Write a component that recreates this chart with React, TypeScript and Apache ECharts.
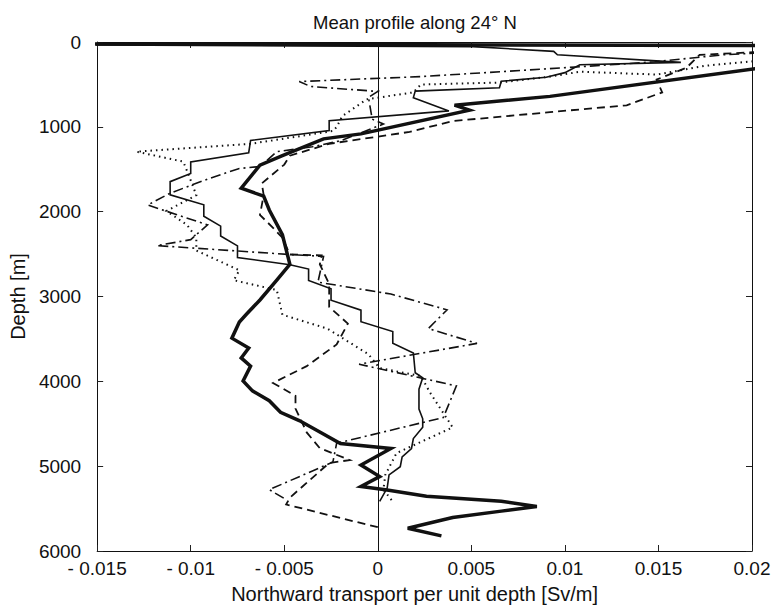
import React, { useEffect, useRef } from "react";
import * as echarts from "echarts";

// [transport (Sv/m), depth (m)]
const totalThick: number[][] = [
  [-0.02, 22], [0.025, 42], [0.0215, 275],
  [0.0092, 641], [0.0041, 745], [0.0049, 804], [-0.0009, 1083], [-0.0029, 1142],
  [-0.0051, 1340], [-0.0063, 1452], [-0.0073, 1724], [-0.0061, 1817], [-0.0058, 1980],
  [-0.0051, 2272], [-0.0047, 2621], [-0.0054, 2808], [-0.0063, 3041], [-0.007, 3204],
  [-0.0074, 3300], [-0.0078, 3491], [-0.0069, 3608], [-0.0073, 3724], [-0.0068, 3821],
  [-0.0072, 3996], [-0.0067, 4112], [-0.0058, 4229], [-0.0052, 4365], [-0.0042, 4462],
  [-0.0031, 4598], [-0.002, 4734], [0.0007, 4792], [-0.0009, 4986], [0.0001, 5122],
  [-0.0009, 5239], [0.0005, 5280], [0.0026, 5355], [0.0066, 5413], [0.0085, 5475],
  [0.0066, 5530], [0.004, 5605], [0.0016, 5732], [0.0034, 5822],
];

const thinSolid: number[][] = [
  [-0.02, 28], [0.0051, 55], [0.0094, 110], [0.0096, 150], [0.0162, 240], [0.0108, 268],
  [0.01, 361], [0.009, 416], [0.0066, 462],
  [0.0065, 540], [0.002, 579], [0.0019, 656], [0.0038, 812], [-0.0026, 928],
  [-0.0026, 1045], [-0.0068, 1161], [-0.0069, 1305], [-0.01, 1413], [-0.01, 1549],
  [-0.0111, 1646], [-0.0111, 1802], [-0.0093, 1919], [-0.0093, 2054], [-0.0084, 2170],
  [-0.0084, 2287], [-0.0075, 2403], [-0.0075, 2540], [-0.0047, 2625], [-0.0037, 2676],
  [-0.0037, 2811], [-0.0025, 2909], [-0.0025, 3044], [-0.0009, 3161], [-0.0009, 3297],
  [0.0008, 3413], [0.0008, 3550], [0.0019, 3666], [0.002, 3899], [0.0024, 3958],
  [0.0022, 4093], [0.0022, 4326], [0.0024, 4442], [0.0024, 4540], [0.0019, 4675],
  [0.0018, 4792], [0.0013, 4890], [0.0012, 5006], [0.0006, 5103], [0.0005, 5258],
  [0.0001, 5414],
];

const dashed: number[][] = [
  [0.03, 15], [0.0172, 151], [0.0165, 303], [0.0149, 443], [0.0152, 594], [0.0133, 746],
  [0.0092, 827], [0.004, 932], [0.0017, 1060], [-0.0026, 1200], [-0.0047, 1340],
  [-0.005, 1445], [-0.0062, 1666], [-0.0061, 1806], [-0.0063, 2039], [-0.0056, 2190],
  [-0.0051, 2307], [-0.0047, 2505], [-0.003, 2516], [-0.0031, 2621], [-0.0026, 2854],
  [-0.0026, 3122], [-0.0016, 3320], [-0.0022, 3565], [-0.0038, 3821], [-0.0056, 4019],
  [-0.0044, 4171], [-0.0044, 4322], [-0.0038, 4602], [-0.0031, 4788], [-0.0015, 4928],
  [-0.0026, 4963], [-0.0047, 5371], [-0.0049, 5452], [0.0, 5720],
];

const dashDot: number[][] = [
  [0.03, 30], [0.0185, 150], [0.0148, 233], [0.0109, 291], [0.0023, 408], [-0.0042, 466],
  [-0.0036, 524], [0.0, 583], [-0.0005, 652], [-0.0003, 909], [0.0003, 967],
  [-0.002, 1165], [-0.0035, 1235], [-0.0054, 1293], [-0.0063, 1468], [-0.0074, 1491],
  [-0.009, 1608], [-0.0111, 1782], [-0.0123, 1922], [-0.0091, 2155], [-0.01, 2330],
  [-0.0118, 2400], [-0.0047, 2505], [-0.0029, 2528], [-0.0032, 2831], [0.0007, 2971],
  [0.0037, 3157], [0.0027, 3378], [0.0053, 3553], [-0.001, 3798], [0.0042, 4054],
  [0.0035, 4427], [-0.0022, 4730], [-0.0024, 4951], [-0.0058, 5277], [-0.0049, 5394],
];

const dotted: number[][] = [
  [0.03, 20], [0.0175, 280], [0.0149, 384], [0.0108, 350], [0.0092, 408], [0.0065, 478],
  [0.0023, 501], [0.0019, 594], [-0.0006, 676], [-0.0019, 874], [-0.0022, 1002],
  [-0.0024, 1049], [-0.0068, 1200], [-0.0129, 1293], [-0.0104, 1410], [-0.0101, 1573],
  [-0.0097, 1806], [-0.0113, 1992], [-0.0102, 2155], [-0.0097, 2307], [-0.0097, 2458],
  [-0.0074, 2691], [-0.0077, 2808], [-0.0054, 2924], [-0.0051, 3215], [-0.0027, 3378],
  [-0.0005, 3681], [0.0001, 3844], [0.0023, 3938], [0.0028, 4136], [0.004, 4543],
  [0.001, 4846], [0.0004, 5103], [0.0003, 5277], [0.0008, 5417],
];

const xTickLabels = ["- 0.015", "- 0.01", "- 0.005", "0", "0.005", "0.01", "0.015", "0.02"];
const yTickLabels = ["0", "1000", "2000", "3000", "4000", "5000", "6000"];

const FONT = "'Liberation Sans', Arial, Helvetica, sans-serif";

export default function App() {
  const ref = useRef<HTMLDivElement>(null);
  useEffect(() => {
    if (!ref.current) return;
    const chart = echarts.init(ref.current, null, { renderer: "svg" });
    const line = (name: string, data: number[][], width: number, type: any) => ({
      name,
      type: "line",
      data,
      xAxisIndex: 0,
      yAxisIndex: 0,
      symbol: "none",
      showSymbol: false,
      clip: true,
      lineStyle: { color: "#111", width, type, cap: "butt", join: "miter" },
      emphasis: { disabled: true },
    });
    const tickCommon = {
      axisTick: { show: true, inside: true, length: 6, lineStyle: { color: "#222", width: 1 } },
      axisLine: { show: true, onZero: false, lineStyle: { color: "#111", width: 1 } },
      splitLine: { show: false },
    };
    chart.setOption({
      animation: false,
      backgroundColor: "#fff",
      title: {
        text: "Mean profile along 24° N",
        left: 308,
        top: 8,
        textStyle: { fontFamily: FONT, fontSize: 18.5, fontWeight: "normal", color: "#111" },
      },
      grid: { left: 97, right: 23, top: 42, bottom: 52, containLabel: false },
      xAxis: [
        {
          type: "value",
          min: -0.015,
          max: 0.02,
          interval: 0.005,
          position: "bottom",
          name: "Northward transport per unit depth [Sv/m]",
          nameLocation: "middle",
          nameGap: 33,
          nameTextStyle: { fontFamily: FONT, fontSize: 20, color: "#111", padding: [0, 20, 0, 0] },
          axisLabel: {
            fontFamily: FONT,
            fontSize: 19,
            color: "#111",
            margin: 8,
            formatter: (v: number) => xTickLabels[Math.round((v + 0.015) / 0.005)] ?? "",
          },
          ...tickCommon,
        },
        {
          type: "value",
          min: -0.015,
          max: 0.02,
          interval: 0.005,
          position: "top",
          axisLabel: { show: false },
          ...tickCommon,
        },
      ],
      yAxis: [
        {
          type: "value",
          min: 0,
          max: 6000,
          interval: 1000,
          inverse: true,
          position: "left",
          name: "Depth [m]",
          nameLocation: "middle",
          nameGap: 66,
          nameRotate: 90,
          nameTextStyle: { fontFamily: FONT, fontSize: 20, color: "#111" },
          axisLabel: {
            fontFamily: FONT,
            fontSize: 19,
            color: "#111",
            margin: 16,
            formatter: (v: number) => yTickLabels[Math.round(v / 1000)] ?? "",
          },
          ...tickCommon,
        },
        {
          type: "value",
          min: 0,
          max: 6000,
          interval: 1000,
          inverse: true,
          position: "right",
          axisLabel: { show: false },
          ...tickCommon,
        },
      ],
      series: [
        {
          ...line("Total", totalThick, 3.5, "solid"),
          z: 5,
          markLine: {
            silent: true,
            symbol: "none",
            label: { show: false },
            lineStyle: { color: "#111", width: 1, type: "solid" },
            data: [{ xAxis: 0 }],
          },
        },
        line("Thin solid", thinSolid, 1.6, "solid"),
        line("Dashed", dashed, 1.8, [8, 5]),
        line("Dash-dot", dashDot, 1.6, [10, 4, 2, 4]),
        line("Dotted", dotted, 2, [1.5, 4]),
      ],
    });
    return () => chart.dispose();
  }, []);
  return (
    <div
      ref={ref}
      style={{ position: "fixed", left: 0, top: 0, width: 775, height: 609, background: "#fff" }}
    />
  );
}
